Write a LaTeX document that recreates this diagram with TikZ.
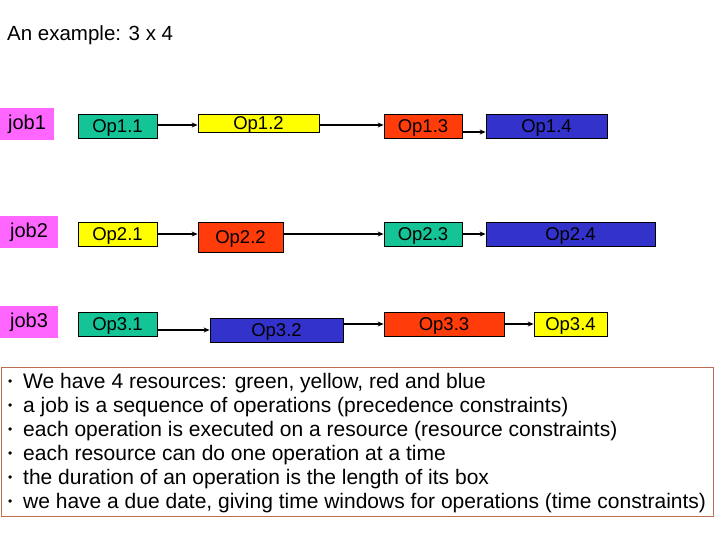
\documentclass[tikz,border=0pt]{standalone}
\usepackage{fontspec}
\setmainfont{Liberation Sans}
\usetikzlibrary{arrows.meta}
\definecolor{cteal}{RGB}{20,196,150}
\definecolor{cyel}{RGB}{255,255,0}
\definecolor{cred}{RGB}{255,60,10}
\definecolor{cblue}{RGB}{51,51,204}
\definecolor{cmag}{RGB}{255,102,255}
\definecolor{cbrown}{RGB}{190,110,80}
\newcommand{\mybul}{\makebox[15pt][l]{\fontsize{12}{12}\selectfont\raisebox{2.5pt}{\textbullet}}}
\tikzset{
  opbox/.style={draw=black, line width=0.8pt, inner sep=0pt, text depth=0pt, font=\fontsize{18.5}{20}\selectfont},
  jobbox/.style={fill=cmag, inner sep=0pt, minimum height=32pt, font=\fontsize{20}{22}\selectfont},
  conn/.style={line width=1.3pt, -{Stealth[length=6pt,width=5pt]}},
  bul/.style={anchor=base west, inner sep=0pt, font=\fontsize{21}{24}\selectfont}
}
\begin{document}
\begin{tikzpicture}[x=1pt,y=-1pt]
\useasboundingbox (0,0) rectangle (720,540);
\node[anchor=base west, inner sep=0pt, font=\fontsize{20.5}{22}\selectfont] (title) at (7,41) {An example: 3 x 4};
% jobs
\node[jobbox, minimum width=54pt] (job1) at (27,124) {job1};
\node[jobbox, minimum width=58pt] (job2) at (29,232) {job2};
\node[jobbox, minimum width=58pt] (job3) at (29,322) {job3};
% ops row 1
\node[opbox, fill=cteal, minimum width=79pt, minimum height=24pt] (op11) at (117.5,126) {Op1.1};
\node[opbox, fill=cyel, minimum width=121pt, minimum height=18pt] (op12) at (258.5,123) {Op1.2};
\node[opbox, fill=cred, minimum width=78pt, minimum height=24pt] (op13) at (423,126) {Op1.3};
\node[opbox, fill=cblue, minimum width=121pt, minimum height=24pt] (op14) at (546.5,126) {Op1.4};
% row 2
\node[opbox, fill=cyel, minimum width=79pt, minimum height=24pt] (op21) at (117.5,234) {Op2.1};
\node[opbox, fill=cred, minimum width=85pt, minimum height=30pt] (op22) at (240.5,237) {Op2.2};
\node[opbox, fill=cteal, minimum width=78pt, minimum height=24pt] (op23) at (423,234) {Op2.3};
\node[opbox, fill=cblue, minimum width=169pt, minimum height=24pt] (op24) at (570.5,234) {Op2.4};
% row 3
\node[opbox, fill=cteal, minimum width=79pt, minimum height=24pt] (op31) at (117.5,324) {Op3.1};
\node[opbox, fill=cblue, minimum width=133pt, minimum height=24pt] (op32) at (276.5,330) {Op3.2};
\node[opbox, fill=cred, minimum width=120pt, minimum height=24pt] (op33) at (444,324) {Op3.3};
\node[opbox, fill=cyel, minimum width=73pt, minimum height=24pt] (op34) at (570.5,324) {Op3.4};
% connector start points
\coordinate (s11) at ([yshift=1pt]op11.east);
\coordinate (s12) at ([yshift=-2pt]op12.east);
\coordinate (s13) at ([yshift=-6pt]op13.east);
\coordinate (s31) at ([yshift=-6pt]op31.east);
% connectors
\draw[conn] (s11) -- (op12.west |- s11);
\draw[conn] (s12) -- (op13.west |- s12);
\draw[conn] (s13) -- (op14.west |- s13);
\draw[conn] (op21.east) -- (op22.west |- op21.east);
\draw[conn] (op22.east |- op21.east) -- (op23.west);
\draw[conn] (op23.east) -- (op24.west);
\draw[conn] (s31) -- (op32.west |- s31);
\draw[conn] (op32.east |- op33.west) -- (op33.west);
\draw[conn] (op33.east) -- (op34.west);
% text box
\draw[cbrown, line width=0.9pt] (1,367) rectangle (713,516);
\node[bul] (l1) at (8,388) {\mybul We have 4 resources: green, yellow, red and blue};
\node[bul] (l2) at (8,412) {\mybul a job is a sequence of operations (precedence constraints)};
\node[bul] (l3) at (8,436) {\mybul each operation is executed on a resource (resource constraints)};
\node[bul] (l4) at (8,460) {\mybul each resource can do one operation at a time};
\node[bul] (l5) at (8,484) {\mybul the duration of an operation is the length of its box};
\node[bul] (l6) at (8,508) {\mybul we have a due date, giving time windows for operations (time constraints)};
\end{tikzpicture}
\end{document}
